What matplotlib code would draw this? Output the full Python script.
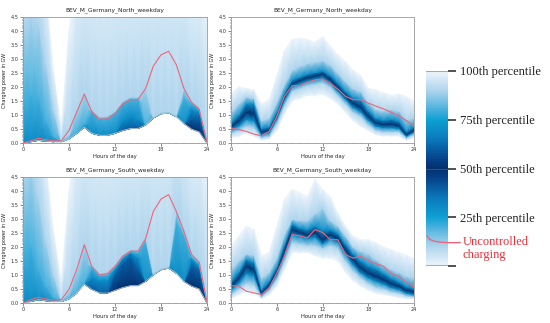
import numpy as np
import matplotlib
matplotlib.use('Agg')
import matplotlib.pyplot as plt
from matplotlib.colors import LinearSegmentedColormap
from matplotlib.cm import ScalarMappable
from matplotlib.colors import Normalize

hours = list(range(25))

# left panels: percentile levels above the minimum curve (the minimum is the 50th level)
left_levels = [50, 60, 70, 80, 90, 100]
# right panels: full percentile fan
right_levels = [0, 10, 30, 50, 70, 90, 100]

# North, left panel
nl_min = [0.00, 0.05, 0.10, 0.07, 0.05, 0.05, 0.15, 0.35, 0.57, 0.35, 0.28, 0.28, 0.35,
          0.45, 0.52, 0.52, 0.65, 0.90, 1.05, 1.08, 0.95, 0.70, 0.50, 0.40, 0.00]
nl_p60 = [0.00, 0.05, 0.10, 0.07, 0.05, 0.05, 0.15, 0.35, 0.57, 0.35, 0.28, 0.28, 0.35,
          0.45, 0.52, 0.52, 0.65, 0.90, 1.05, 1.08, 0.95, 0.70, 0.85, 0.85, 0.02]
nl_p70 = [0.00, 0.05, 0.10, 0.07, 0.05, 0.05, 0.15, 0.35, 0.57, 0.35, 0.28, 0.28, 0.35,
          0.80, 0.95, 0.85, 0.65, 0.90, 1.05, 1.08, 0.95, 0.70, 1.20, 1.10, 0.05]
nl_p80 = [1.5, 1.7, 1.6, 0.8, 0.25, 0.05, 0.15, 0.40, 0.70, 1.10, 0.85, 0.87, 1.05,
          1.40, 1.55, 1.55, 0.65, 0.90, 1.05, 1.08, 0.95, 1.60, 1.40, 1.20, 0.07]
nl_p90 = [4.2, 4.5, 4.3, 2.8, 1.2, 0.10, 0.30, 1.20, 1.80, 1.20, 0.95, 0.97, 1.15,
          1.50, 1.65, 1.65, 1.95, 0.95, 1.10, 1.12, 1.00, 1.95, 1.50, 1.30, 0.10]
nl_p100 = [9, 9, 9, 5.5, 2.5, 0.6, 4, 6, 7, 7, 7, 7, 7,
           7, 7, 7, 7, 8, 8, 8, 8, 7, 6, 6, 5]
nl_uncontrolled = [0.00, 0.08, 0.17, 0.12, 0.08, 0.08, 0.45, 1.10, 1.75, 1.10, 0.85, 0.87, 1.05,
                   1.40, 1.55, 1.55, 1.95, 2.75, 3.15, 3.28, 2.80, 1.95, 1.45, 1.20, 0.05]

# North, right panel
nr_p0 = [0.20, 0.25, 0.35, 0.25, 0.10, 0.15, 0.45, 1.05, 1.50, 1.60, 1.70, 1.70, 1.75,
         1.60, 1.40, 1.10, 0.80, 0.60, 0.45, 0.30, 0.25, 0.25, 0.25, 0.10, 0.20]
nr_p10 = [0.35, 0.45, 0.60, 0.55, 0.20, 0.25, 0.70, 1.35, 1.85, 1.95, 2.05, 2.10, 2.15,
          2.00, 1.70, 1.40, 1.10, 0.95, 0.65, 0.45, 0.40, 0.40, 0.40, 0.18, 0.30]
nr_p30 = [0.48, 0.62, 0.85, 0.80, 0.30, 0.38, 0.88, 1.55, 2.02, 2.12, 2.22, 2.28, 2.33,
          2.16, 1.86, 1.57, 1.28, 1.12, 0.82, 0.60, 0.55, 0.55, 0.52, 0.25, 0.40]
nr_p50 = [0.58, 0.80, 1.10, 1.05, 0.40, 0.47, 0.98, 1.66, 2.12, 2.24, 2.34, 2.40, 2.47,
          2.28, 1.98, 1.68, 1.42, 1.28, 0.95, 0.72, 0.66, 0.68, 0.62, 0.30, 0.47]
nr_p70 = [0.72, 1.00, 1.40, 1.40, 0.52, 0.58, 1.10, 1.78, 2.25, 2.36, 2.46, 2.52, 2.58,
          2.42, 2.15, 1.85, 1.62, 1.52, 1.15, 0.88, 0.82, 0.85, 0.78, 0.42, 0.58]
nr_p90 = [1.10, 1.40, 1.65, 1.60, 0.80, 0.90, 1.45, 2.10, 2.60, 2.75, 2.85, 2.90, 2.95,
          2.80, 2.50, 2.20, 1.95, 1.85, 1.45, 1.20, 1.15, 1.20, 1.15, 0.85, 0.90]
nr_p100 = [1.75, 2.00, 1.95, 1.90, 1.40, 1.55, 2.40, 3.30, 3.70, 3.75, 3.70, 3.60, 3.80,
           3.45, 3.15, 2.90, 2.60, 2.40, 1.95, 1.90, 1.80, 1.70, 1.75, 1.65, 1.50]
nr_uncontrolled = [0.54, 0.48, 0.42, 0.32, 0.26, 0.42, 0.95, 1.67, 2.05, 2.05, 2.17, 2.26, 2.29,
                   2.14, 1.93, 1.67, 1.55, 1.55, 1.43, 1.32, 1.22, 1.10, 0.98, 0.80, 0.60]

# South, left panel
sl_min = [0.00, 0.05, 0.12, 0.08, 0.05, 0.05, 0.15, 0.35, 0.68, 0.48, 0.36, 0.35, 0.45,
          0.55, 0.62, 0.62, 0.77, 1.01, 1.19, 1.25, 1.07, 0.77, 0.60, 0.50, 0.00]
sl_p60 = [0.00, 0.05, 0.12, 0.08, 0.05, 0.05, 0.15, 0.35, 0.68, 0.48, 0.36, 0.35, 1.00,
          1.40, 1.60, 1.20, 0.77, 1.01, 1.19, 1.25, 1.07, 0.77, 1.30, 1.10, 0.02]
sl_p70 = [0.00, 0.05, 0.12, 0.08, 0.05, 0.05, 0.15, 0.35, 0.68, 0.90, 0.80, 0.80, 1.20,
          1.58, 1.78, 1.60, 0.77, 1.01, 1.19, 1.25, 1.07, 0.77, 1.55, 1.30, 0.04]
sl_p80 = [1.8, 2.0, 1.2, 0.6, 0.2, 0.05, 0.15, 0.35, 0.75, 1.25, 0.98, 1.00, 1.28,
          1.64, 1.83, 1.80, 2.20, 1.01, 1.19, 1.25, 2.90, 2.40, 1.65, 1.40, 0.06]
sl_p90 = [4.6, 5.0, 3.8, 2.2, 1.0, 0.10, 0.40, 1.20, 2.10, 1.35, 1.05, 1.08, 1.35,
          1.72, 1.90, 1.90, 2.35, 1.06, 1.24, 1.30, 3.30, 2.60, 1.75, 1.50, 0.10]
sl_p100 = [9, 9, 8, 5, 2.5, 0.8, 4, 6, 7, 7, 7, 7, 7,
           7, 7, 7, 7, 8, 8, 8, 8, 7, 6, 6, 5]
sl_uncontrolled = [0.00, 0.12, 0.20, 0.14, 0.10, 0.12, 0.48, 1.19, 2.08, 1.29, 1.01, 1.05, 1.31,
                   1.67, 1.85, 1.85, 2.30, 3.27, 3.71, 3.87, 3.27, 2.56, 1.73, 1.45, 0.05]

# South, right panel
sr_p0 = [0.15, 0.30, 0.40, 0.35, 0.15, 0.30, 0.60, 1.20, 1.80, 1.80, 1.80, 1.70, 1.60,
         1.60, 1.50, 1.10, 0.80, 0.60, 0.45, 0.35, 0.30, 0.25, 0.20, 0.15, 0.15]
sr_p10 = [0.30, 0.50, 0.70, 0.65, 0.22, 0.45, 0.85, 1.50, 2.15, 2.10, 2.05, 2.05, 1.95,
          2.05, 1.95, 1.50, 1.15, 0.90, 0.70, 0.55, 0.50, 0.40, 0.35, 0.25, 0.22]
sr_p30 = [0.48, 0.72, 1.05, 0.98, 0.30, 0.56, 1.02, 1.75, 2.45, 2.38, 2.30, 2.36, 2.12,
          2.28, 2.18, 1.75, 1.38, 1.08, 0.90, 0.78, 0.68, 0.55, 0.48, 0.35, 0.30]
sr_p50 = [0.60, 0.89, 1.31, 1.19, 0.36, 0.65, 1.13, 1.90, 2.62, 2.52, 2.44, 2.52, 2.26,
          2.44, 2.32, 1.90, 1.55, 1.25, 1.07, 0.95, 0.83, 0.69, 0.60, 0.45, 0.40]
sr_p70 = [0.75, 1.10, 1.55, 1.45, 0.48, 0.78, 1.28, 2.08, 2.82, 2.68, 2.62, 2.75, 2.60,
          2.62, 2.48, 2.10, 1.75, 1.50, 1.32, 1.22, 1.05, 0.88, 0.75, 0.58, 0.52]
sr_p90 = [1.20, 1.50, 1.75, 1.70, 0.90, 1.10, 1.60, 2.45, 3.00, 2.95, 2.95, 3.20, 3.40,
          2.95, 2.75, 2.40, 2.00, 1.85, 1.75, 1.55, 1.35, 1.20, 1.10, 0.95, 0.90]
sr_p100 = [2.00, 2.38, 2.74, 2.62, 1.67, 1.80, 2.74, 3.70, 4.05, 3.93, 3.80, 4.40, 4.05,
           3.80, 3.20, 2.74, 2.38, 2.26, 2.26, 2.14, 2.00, 1.90, 1.80, 1.70, 1.60]
sr_uncontrolled = [0.62, 0.60, 0.42, 0.36, 0.30, 0.54, 1.07, 1.67, 2.44, 2.40, 2.32, 2.62, 2.52,
                   2.26, 2.26, 1.73, 1.60, 1.67, 1.52, 1.40, 1.31, 1.05, 0.95, 0.75, 0.55]

cb_ticks = [0, 25, 50, 75, 100]
cb_labels = ['', '25th percentile', '50th percentile', '75th percentile', '100th percentile']

# symmetric colour scale: light at the edges, dark at the median
fan_cmap = LinearSegmentedColormap.from_list('fan', [
    (0.00, '#edf5fc'), (0.10, '#aed4ed'), (0.20, '#45b0dd'), (0.25, '#0ea0d2'),
    (0.35, '#0a78bb'), (0.45, '#06428a'), (0.50, '#04306e'),
    (0.55, '#06428a'), (0.65, '#0a78bb'), (0.75, '#0ea0d2'), (0.80, '#45b0dd'),
    (0.90, '#aed4ed'), (1.00, '#edf5fc')])

red = '#f0647a'
fig = plt.figure(figsize=(5.5, 3.23), dpi=100)


def draw_fan(ax, levels, rows, uncontrolled, title, min_line=None):
    X = np.tile(np.array(hours, dtype=float), (len(rows), 1))
    Y = np.array(rows, dtype=float)
    C = np.repeat(np.array(levels, dtype=float)[:, None], len(hours), axis=1)
    ax.pcolormesh(X, Y, C, shading='gouraud', cmap=fan_cmap, vmin=0, vmax=100)
    if min_line is not None:
        ax.plot(hours, min_line, color='#b8c0c8', lw=0.6)
    ax.plot(hours, uncontrolled, color=red, lw=0.8)
    ax.set_xlim(0, 24)
    ax.set_ylim(0, 4.5)
    ax.set_xticks([0, 6, 12, 18, 24])
    ax.set_xticks(hours, minor=True)
    ax.set_yticks(np.arange(0, 4.51, 0.5))
    ax.set_yticks(np.arange(0, 4.51, 0.1), minor=True)
    ax.set_yticklabels([f'{v:.1f}' for v in np.arange(0, 4.51, 0.5)])
    ax.tick_params(labelsize=3.6, length=2, width=0.4, pad=1, colors='#333333')
    ax.tick_params(which='minor', length=1, width=0.3)
    for s in ax.spines.values():
        s.set_color('#999999')
        s.set_linewidth(0.6)
    ax.set_title(title, fontsize=4.2, pad=4, color='#222222')
    ax.set_xlabel('Hours of the day', fontsize=3.8, labelpad=1.5, color='#222222')
    ax.set_ylabel('Charging power in GW', fontsize=3.5, labelpad=3, color='#222222')


ax_tl = fig.add_axes([0.0418, 0.557, 0.3345, 0.390])
ax_tr = fig.add_axes([0.420, 0.557, 0.333, 0.390])
ax_bl = fig.add_axes([0.0418, 0.062, 0.3345, 0.390])
ax_br = fig.add_axes([0.420, 0.062, 0.333, 0.390])

draw_fan(ax_tl, left_levels, [nl_min, nl_p60, nl_p70, nl_p80, nl_p90, nl_p100],
         nl_uncontrolled, 'BEV_M_Germany_North_weekday', min_line=nl_min)
draw_fan(ax_tr, right_levels, [nr_p0, nr_p10, nr_p30, nr_p50, nr_p70, nr_p90, nr_p100],
         nr_uncontrolled, 'BEV_M_Germany_North_weekday')
draw_fan(ax_bl, left_levels, [sl_min, sl_p60, sl_p70, sl_p80, sl_p90, sl_p100],
         sl_uncontrolled, 'BEV_M_Germany_South_weekday', min_line=sl_min)
draw_fan(ax_br, right_levels, [sr_p0, sr_p10, sr_p30, sr_p50, sr_p70, sr_p90, sr_p100],
         sr_uncontrolled, 'BEV_M_Germany_South_weekday')

# colour bar legend
cax = fig.add_axes([426 / 550, 1 - 266 / 323, 22 / 550, 195 / 323])
cb = fig.colorbar(ScalarMappable(norm=Normalize(0, 100), cmap=fan_cmap), cax=cax,
                  ticks=cb_ticks)
cb.outline.set_visible(False)
cax.set_yticklabels(cb_labels, fontsize=9, family='Liberation Serif', color='#222222')
cax.tick_params(length=6, width=1.2, color='#333333', pad=3)
cax.axhline(100, color='#aaaaaa', lw=1.5)
cax.axhline(0, color='#aaaaaa', lw=1.5)
cax.axhline(50, color='#445566', lw=0.6)
# red legend line for uncontrolled charging
cax.plot([0.05, 0.15, 0.35, 0.65, 1.0, 1.55], [15.5, 13.8, 12.8, 12.2, 12.0, 12.0],
         color=red, lw=1.0, clip_on=False, transform=cax.get_yaxis_transform())
cax.text(1.65, 9, 'Uncontrolled\ncharging', color='#e8303a', fontsize=9,
         family='Liberation Serif', va='center', ha='left', linespacing=1.05,
         transform=cax.get_yaxis_transform())

fig.savefig('out.png', dpi=100)
